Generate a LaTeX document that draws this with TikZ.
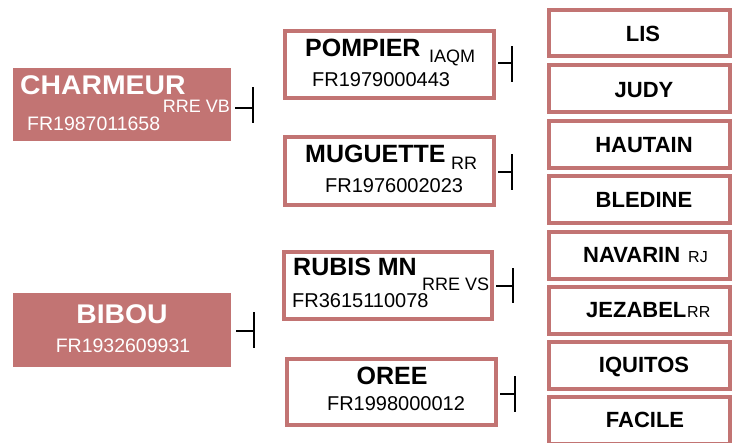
\documentclass[tikz,border=0pt]{standalone}
\usepackage{fontspec}
\setmainfont{Liberation Sans}
\newfontfamily\widesans[FakeStretch=1.05]{Liberation Sans}
\definecolor{rose}{RGB}{194,116,115}
\tikzset{
  filledbox/.style={fill=rose, draw=none, inner sep=0pt, minimum width=218pt},
  framedbox/.style={draw=rose, line width=4pt, fill=white, inner sep=0pt},
  midbox/.style={framedbox, minimum width=209pt},
  rbox/.style={framedbox, minimum width=181pt, minimum height=47pt},
  conn/.style={line width=1.8pt, black},
  txt/.style={inner sep=0pt, anchor=base west},
  wname/.style={txt, text=white, font=\widesans\fontsize{27}{27}\selectfont\bfseries},
  wnum/.style={txt, text=white, font=\fontsize{19.5}{20}\selectfont},
  wsuf/.style={txt, text=white, font=\fontsize{18}{18}\selectfont},
  bname/.style={txt, font=\fontsize{25}{25}\selectfont\bfseries},
  bnum/.style={txt, font=\fontsize{20}{20}\selectfont},
  bsuf/.style={txt, font=\fontsize{18}{18}\selectfont},
  rname/.style={txt, font=\fontsize{22}{22}\selectfont\bfseries},
  rsuf/.style={txt, font=\fontsize{16}{16}\selectfont},
}
\begin{document}
\begin{tikzpicture}[x=1pt, y=-1pt]
\clip (0,0) rectangle (741,442);
\fill[white] (0,0) rectangle (741,442);

% left boxes
\node[filledbox, minimum height=73pt] (ch) at (122,104.5) {};
\node[wname] (chn) at (20,94) {CHARMEUR};
\node[wsuf, anchor=base east] (chs) at (230,112) {RRE VB};
\node[wnum] (chf) at (27,130) {FR1987011658};

\node[filledbox, minimum height=74pt] (bi) at (122,330) {};
\node[wname, anchor=base] (bin) at (122,323) {BIBOU};
\node[wnum, anchor=base] (bif) at (123,352) {FR1932609931};

% middle boxes
\node[midbox, minimum height=67pt] (po) at (389.5,64.5) {};
\node[bname] (pon) at (305,56) {POMPIER};
\node[bsuf] (pos) at (429,62) {IAQM};
\node[bnum] (pof) at (312,86) {FR1979000443};

\node[midbox, minimum height=68pt] (mu) at (389.5,171) {};
\node[bname] (mun) at (305,162) {MUGUETTE};
\node[bsuf] (mus) at (451,169) {RR};
\node[bnum] (muf) at (325,192) {FR1976002023};

\node[midbox, minimum width=208pt, minimum height=67pt] (ru) at (388,285.5) {};
\node[bname] (run) at (293,275) {RUBIS MN};
\node[bsuf] (rus) at (422,290) {RRE VS};
\node[bnum] (ruf) at (292,307) {FR3615110078};

\node[midbox, minimum height=66pt] (or) at (391.5,392) {};
\node[bname, anchor=base] (orn) at (392,384) {OREE};
\node[bnum, anchor=base] (orf) at (396,410) {FR1998000012};

% right boxes
\node[rbox, minimum height=46pt] (li) at (639.5,33) {};
\node[rname, anchor=base] (lin) at (643,41) {LIS};
\node[rbox] (ju) at (639.5,88.5) {};
\node[rname, anchor=base] (jun) at (644,97) {JUDY};
\node[rbox] (ha) at (639.5,144.5) {};
\node[rname, anchor=base] (han) at (644,152) {HAUTAIN};
\node[rbox] (bl) at (639.5,199.5) {};
\node[rname, anchor=base] (bln) at (644,207) {BLEDINE};
\node[rbox] (na) at (639.5,255.5) {};
\node[rname] (nan) at (583,262) {NAVARIN};
\node[rsuf] (nas) at (688,262) {RJ};
\node[rbox] (je) at (639.5,310.5) {};
\node[rname] (jen) at (586,317) {JEZABEL};
\node[rsuf] (jes) at (687,317) {RR};
\node[rbox] (iq) at (639.5,365.5) {};
\node[rname, anchor=base] (iqn) at (644,372) {IQUITOS};
\node[rbox] (fa) at (639.5,420.5) {};
\node[rname, anchor=base] (fan) at (645,427) {FACILE};

% connectors
\coordinate (chM) at (253,108); \coordinate (chT) at (253,87); \coordinate (chB) at (253,123);
\draw[conn] ([xshift=4pt]ch.east |- chM) -- (chM);
\draw[conn] (chT) -- (chB);

\coordinate (biM) at (254,331); \coordinate (biT) at (254,312); \coordinate (biB) at (254,348);
\draw[conn] ([xshift=5pt]bi.east |- biM) -- (biM);
\draw[conn] (biT) -- (biB);

\coordinate (poM) at (512,63); \coordinate (poT) at (512,46); \coordinate (poB) at (512,82);
\draw[conn] ([xshift=2pt]po.east |- poM) -- (poM);
\draw[conn] (poT) -- (poB);

\coordinate (muM) at (512,172); \coordinate (muT) at (512,154); \coordinate (muB) at (512,190);
\draw[conn] ([xshift=2pt]mu.east |- muM) -- (muM);
\draw[conn] (muT) -- (muB);

\coordinate (ruM) at (513,286); \coordinate (ruT) at (513,268); \coordinate (ruB) at (513,303);
\draw[conn] ([xshift=2pt]ru.east |- ruM) -- (ruM);
\draw[conn] (ruT) -- (ruB);

\coordinate (orM) at (515,394); \coordinate (orT) at (515,376); \coordinate (orB) at (515,412);
\draw[conn] ([xshift=2pt]or.east |- orM) -- (orM);
\draw[conn] (orT) -- (orB);
\end{tikzpicture}
\end{document}
